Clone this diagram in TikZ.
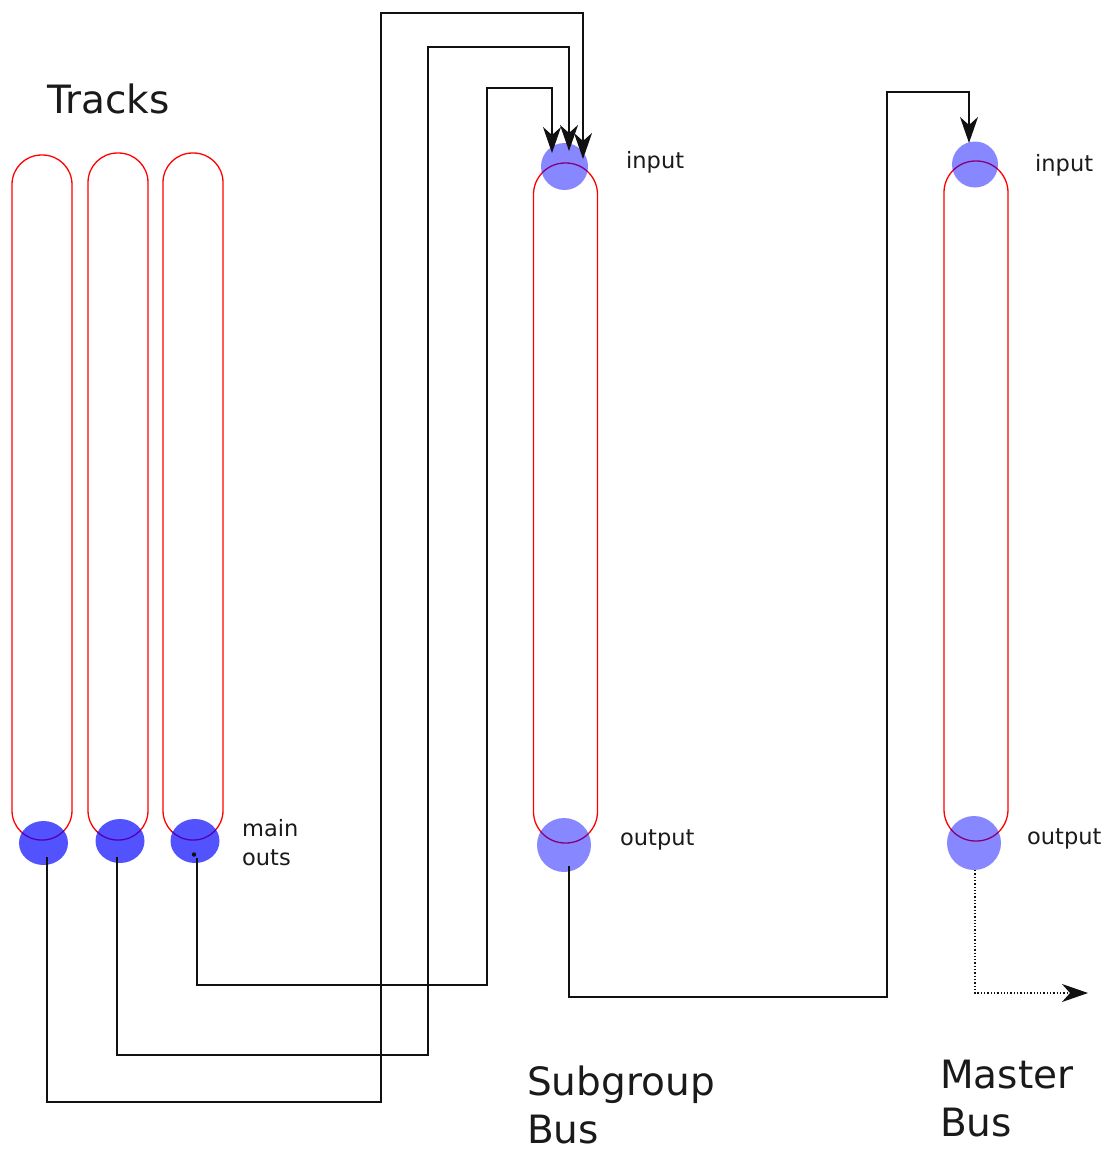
\documentclass[tikz,border=0pt]{standalone}
\usepackage{fontspec}
\setmainfont{DejaVu Sans}
\usepackage{tikz}
\usetikzlibrary{arrows.meta,positioning,calc,shapes.geometric}
\definecolor{busred}{HTML}{FF0000}
\definecolor{portblue}{HTML}{0000FF}
\definecolor{wiregray}{HTML}{111111}
\definecolor{labelgray}{HTML}{1A1A1A}
\tikzset{
  pill/.style={draw=busred,line width=1.3pt,rounded corners=29.5pt,
    inner sep=0pt,minimum width=60pt},
  buspill/.style={pill,rounded corners=31.5pt,minimum width=64pt,minimum height=680pt},
  trackout/.style={ellipse,fill=portblue,fill opacity=0.68,inner sep=0pt,
    minimum width=49pt,minimum height=44pt},
  busport/.style={circle,fill=portblue,fill opacity=0.47,inner sep=0pt},
  wire/.style={draw=wiregray,line width=1.3pt},
  wirearrow/.style={wire,-{Stealth[length=26pt,width=18pt,inset=8pt]}},
  smalltext/.style={font=\fontsize{22.5}{29}\selectfont,text=labelgray,
    align=left,inner sep=0pt,anchor=base west},
  bigtext/.style={font=\fontsize{39}{48}\selectfont,text=labelgray,
    align=left,inner sep=0pt,anchor=base west}
}
\begin{document}
\begin{tikzpicture}[x=1pt,y=-1pt]
\useasboundingbox (0,0) rectangle (1105,1149);
% tracks
\node[pill,minimum height=685pt] (track1) at (42,497.5) {};
\node[pill,minimum height=687pt] (track2) at (118,496.5) {};
\node[pill,minimum height=687pt] (track3) at (193,496.5) {};
\node[trackout] (out1) at (43.5,843) {};
\node[trackout] (out2) at (120,841) {};
\node[trackout] (out3) at (195,841) {};
\fill[wiregray] ($(out3.center)+(-1,13.5)$) circle (2.2pt);
% busses
\node[buspill] (subbus) at (565.5,503) {};
\node[busport,minimum size=47pt] (subin) at (564.5,166.5) {};
\node[busport,minimum size=54pt] (subout) at (564,845) {};
\node[buspill] (masterbus) at (976,501) {};
\node[busport,minimum size=46pt] (masterin) at (975,164.5) {};
\node[busport,minimum size=54pt] (masterout) at (974,843) {};
% labels
\node[bigtext] (trackslabel) at (47,113) {Tracks};
\node[smalltext] (mainouts) at (242,865) {main\\outs};
\node[smalltext] (subinlabel) at (626,168) {input};
\node[smalltext] (suboutlabel) at (620,845) {output};
\node[smalltext] (masterinlabel) at (1035,171) {input};
\node[smalltext] (masteroutlabel) at (1027,844) {output};
\node[bigtext] (sublabel) at (527,1143) {Subgroup\\Bus};
\node[bigtext] (masterlabel) at (940,1136) {Master\\Bus};
% connections
\draw[wirearrow] ($(out1.center)+(3.5,14)$) |- (381,1102) |- (583,13)
  -- ($(subin.center)+(18.5,-7.5)$);
\draw[wirearrow] ($(out2.center)+(-3,16)$) |- (428,1055) |- (569,47)
  -- ($(subin.center)+(4.5,-15.5)$);
\draw[wirearrow] ($(out3.center)+(2,17)$) |- (487,985) |- (552,88)
  -- ($(subin.center)+(-12.5,-13.5)$);
\draw[wirearrow] ($(subout.center)+(5,21)$) |- (887,997) |- (969,92)
  -- ($(masterin.center)+(-6,-21.5)$);
\coordinate (masterend) at (1088,993);
\draw[wirearrow,dotted] ($(masterout.center)+(1,27)$) |- (masterend);
\end{tikzpicture}
\end{document}
